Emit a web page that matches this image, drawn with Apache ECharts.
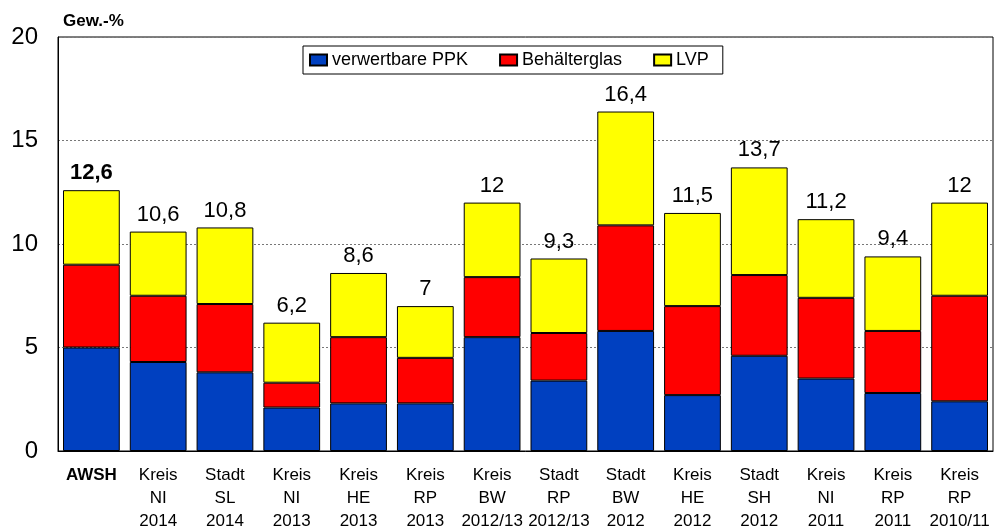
<!DOCTYPE html>
<html>
<head>
<meta charset="utf-8">
<script src="https://cdn.jsdelivr.net/npm/echarts@6/dist/echarts.min.js"></script>
<style>
html, body { margin: 0; padding: 0; background: #fff; }
#main { width: 997px; height: 532px; }
</style>
</head>
<body>
<div id="main"></div>
<script>
var categories = ['AWSH', 'Kreis\nNI\n2014', 'Stadt\nSL\n2014', 'Kreis\nNI\n2013', 'Kreis\nHE\n2013', 'Kreis\nRP\n2013',
    'Kreis\nBW\n2012/13', 'Stadt\nRP\n2012/13', 'Stadt\nBW\n2012', 'Kreis\nHE\n2012', 'Stadt\nSH\n2012',
    'Kreis\nNI\n2011', 'Kreis\nRP\n2011', 'Kreis\nRP\n2010/11'];
var ppk = [5.0, 4.3, 3.8, 2.1, 2.3, 2.3, 5.5, 3.4, 5.8, 2.7, 4.6, 3.5, 2.8, 2.4];
var glas = [4.0, 3.2, 3.3, 1.2, 3.2, 2.2, 2.9, 2.3, 5.1, 4.3, 3.9, 3.9, 3.0, 5.1];
var lvp = [3.6, 3.1, 3.7, 2.9, 3.1, 2.5, 3.6, 3.6, 5.5, 4.5, 5.2, 3.8, 3.6, 4.5];
var totals = [12.6, 10.6, 10.8, 6.2, 8.6, 7, 12, 9.3, 16.4, 11.5, 13.7, 11.2, 9.4, 12];
var yTicks = [0, 5, 10, 15, 20];

var myChart = echarts.init(document.getElementById('main'));

var font = 'Liberation Sans, Arial, sans-serif';
var barStyle = function (c) {
    return { color: c, borderColor: '#000', borderWidth: 1 };
};

var option = {
    animation: false,
    textStyle: { fontFamily: font },
    title: {
        text: 'Gew.-%',
        left: 58,
        top: 8,
        textStyle: { fontSize: 17, fontWeight: 'bold', color: '#000', fontFamily: font }
    },
    legend: {
        top: 46,
        left: 303,
        padding: [5, 14, 5, 6],
        itemGap: 31,
        itemWidth: 17,
        itemHeight: 11,
        icon: 'rect',
        borderColor: '#000',
        borderWidth: 1,
        textStyle: { fontSize: 18, color: '#000', fontFamily: font },
        data: ['verwertbare PPK', 'Behälterglas', 'LVP']
    },
    grid: {
        left: 58,
        right: 4,
        top: 37,
        bottom: 81,
        outerBoundsMode: 'none',
        containLabel: false,
        show: true,
        borderColor: '#000',
        borderWidth: 1
    },
    xAxis: {
        type: 'category',
        data: categories.map(function (c, i) {
            return i === 0 ? { value: c, textStyle: { fontWeight: 'bold' } } : c;
        }),
        axisLine: { lineStyle: { color: '#000' } },
        axisTick: { show: false },
        axisLabel: {
            color: '#000',
            fontSize: 17,
            lineHeight: 23,
            margin: 13,
            interval: 0,
            fontFamily: font
        }
    },
    yAxis: {
        type: 'value',
        min: yTicks[0],
        max: yTicks[yTicks.length - 1],
        interval: 5,
        axisLine: { show: true, lineStyle: { color: '#000' } },
        axisTick: { show: false },
        axisLabel: { color: '#000', fontSize: 24, margin: 20, fontFamily: font },
        splitLine: { lineStyle: { color: '#777', type: [2, 2], width: 1 } }
    },
    series: [
        {
            name: 'verwertbare PPK',
            type: 'bar',
            stack: 'a',
            barCategoryGap: '15%',
            data: ppk,
            itemStyle: barStyle('#0040C0')
        },
        {
            name: 'Behälterglas',
            type: 'bar',
            stack: 'a',
            data: glas,
            itemStyle: barStyle('#FF0000')
        },
        {
            name: 'LVP',
            type: 'bar',
            stack: 'a',
            data: lvp.map(function (v, i) {
                return {
                    value: v,
                    label: i === 0 ? { fontWeight: 'bold' } : {}
                };
            }),
            itemStyle: barStyle('#FFFF00'),
            label: {
                show: true,
                position: 'top',
                distance: 6,
                color: '#000',
                fontSize: 22,
                fontFamily: font,
                formatter: function (p) {
                    return String(totals[p.dataIndex]).replace('.', ',');
                }
            }
        }
    ]
};
myChart.setOption(option);
</script>
</body>
</html>
